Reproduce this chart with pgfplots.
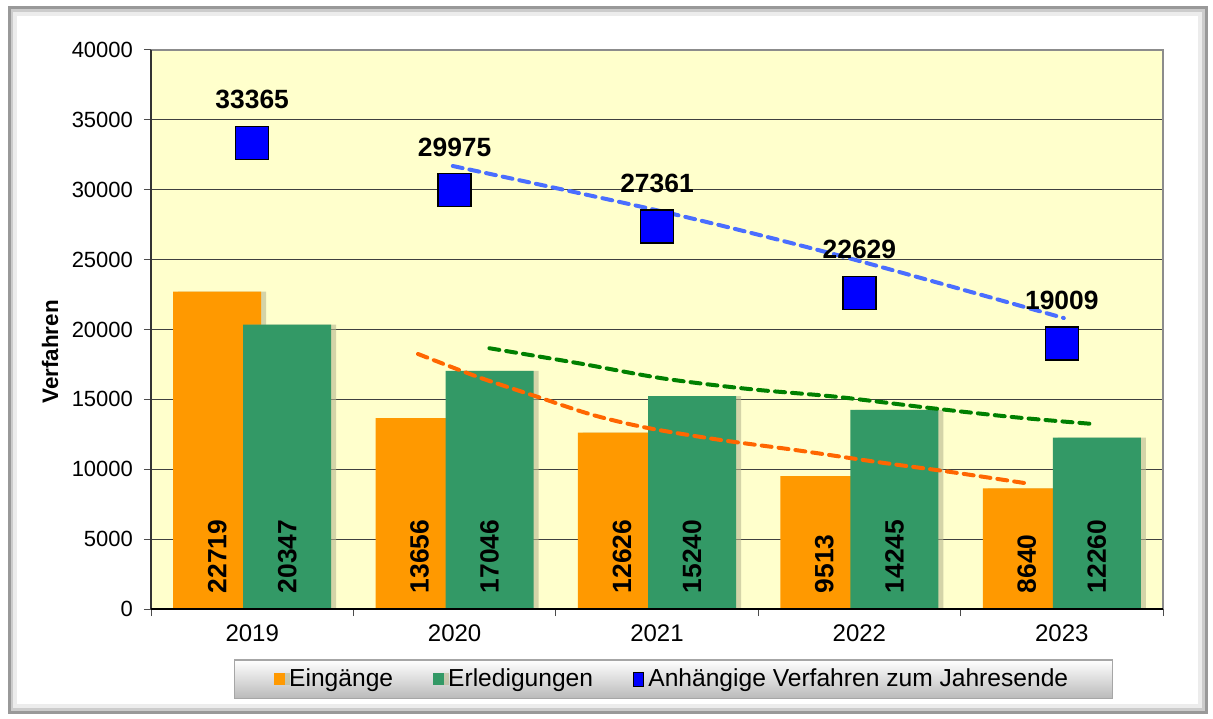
\documentclass[border=0pt]{standalone}
\usepackage{pgfplots}
\pgfplotsset{compat=1.18}
\usepackage{pgfplotstable}
\usepackage{fontspec}
\setmainfont{Liberation Sans}
\definecolor{orgbar}{HTML}{FF9900}
\definecolor{grnbar}{HTML}{339966}
\definecolor{mkblue}{HTML}{0000FF}
\definecolor{trblue}{HTML}{4A6EFF}
\definecolor{trorange}{HTML}{FF6600}
\definecolor{trgreen}{HTML}{008000}
\definecolor{bgyellow}{HTML}{FFFFCC}
\definecolor{shad}{HTML}{B8B890}

\pgfplotstableread{
x ein erl anh
0 22719 20347 33365
1 13656 17046 29975
2 12626 15240 27361
3 9513 14245 22629
4 8640 12260 19009
}\data

\pgfplotstableread{
x y
0.819 18250
1.116 16600
1.412 15170
1.684 13880
1.956 12950
2.316 12090
2.682 11380
3.087 10520
3.453 9800
3.813 9020
}\trendein

\pgfplotstableread{
x y
1.172 18660
1.615 17580
2.025 16510
2.455 15740
2.884 15190
3.339 14400
3.769 13720
4.154 13240
}\trenderl

\pgfplotstableread{
x y
0.991 31700
2.03 28430
2.89 25330
4.01 20820
}\trendanh

\begin{document}
\begin{tikzpicture}
\useasboundingbox (0,0) rectangle (606.5pt,359pt);
\fill[white] (0,0) rectangle (606.5pt,359pt);
\draw[gray!80, line width=1.5pt] (4.5pt,3pt) rectangle (603pt,355pt);
\draw[gray!40, line width=1.5pt] (6pt,4.5pt) rectangle (601.5pt,353.5pt);
\draw[gray!15, line width=2pt] (7.5pt,6pt) rectangle (600pt,352pt);
\begin{axis}[
  at={(75.5pt,54.5pt)}, anchor=south west,
  scale only axis, width=506pt, height=279.5pt,
  xmin=-0.5, xmax=4.5, ymin=0, ymax=40000,
  ytick={0,5000,...,40000},
  xtick={-0.5,0.5,...,4.5},
  xticklabels={2019,2020,2021,2022,2023},
  x tick label as interval,
  scaled y ticks=false,
  /pgf/number format/1000 sep={},
  /pgf/number format/assume math mode=true,
  tick pos=left, tick align=outside,
  major tick length=3.5pt,
  tick style={black!70, line width=0.5pt},
  yticklabel style={font=\fontsize{11}{13}\selectfont, xshift=-2pt},
  xticklabel style={font=\fontsize{12}{14}\selectfont, yshift=-1pt},
  ymajorgrids,
  grid style={black!75, line width=0.5pt},
  axis background/.style={fill=bgyellow},
  axis line style={draw=none},
  ylabel={Verfahren},
  every axis y label/.style={at={(axis description cs:-0.0998,0.46)}, rotate=90, anchor=center, font=\fontsize{11.2}{13}\selectfont\bfseries},
  legend columns=-1,
  legend style={at={(0.516,-0.126)}, anchor=center,
    top color=white, bottom color=gray!55, draw=gray!70, line width=0.6pt,
    inner xsep=20pt, inner ysep=2.5pt,
    font=\fontsize{12.3}{14}\selectfont,
    /tikz/every even column/.append style={column sep=18pt}},
  legend cell align=left,
  after end axis/.code={
    \draw[gray!90, line width=1pt] (rel axis cs:0,1) -- (rel axis cs:1,1) -- (rel axis cs:1,0);
    \draw[black!80, line width=0.6pt] (rel axis cs:0,1) -- (rel axis cs:0,0);
    \draw[black, line width=0.9pt] (rel axis cs:0,0) -- (rel axis cs:1,0);
  },
]
\addplot[ybar, bar width=0.435, bar shift=-0.173, fill=orgbar, draw=none,
  preaction={fill=shad, opacity=0.6, transform canvas={xshift=2.5pt}},
  legend image code/.code={\fill[orgbar] (0pt,-3pt) rectangle (5.5pt,3pt);}]
  table[x=x, y=ein] {\data};
\addlegendentry{Eingänge}
\addplot[ybar, bar width=0.435, bar shift=0.173, fill=grnbar, draw=none,
  preaction={fill=shad, opacity=0.6, transform canvas={xshift=2.5pt}},
  legend image code/.code={\fill[grnbar] (0pt,-3pt) rectangle (5.5pt,3pt);}]
  table[x=x, y=erl] {\data};
\addlegendentry{Erledigungen}
\addplot[only marks, mark=square*, mark size=8.25pt,
  mark options={fill=mkblue, draw=black, line width=0.7pt},
  nodes near coords={\pgfmathprintnumber[fixed,precision=0,1000 sep={}]{\pgfplotspointmeta}},
  point meta=\thisrow{anh},
  every node near coord/.append style={anchor=center, yshift=21.5pt, font=\fontsize{13.2}{15}\selectfont\bfseries, text=black},
  legend image code/.code={\filldraw[fill=mkblue, draw=black, line width=0.6pt] (0pt,-3.5pt) rectangle (5pt,3.5pt);}]
  table[x=x, y=anh] {\data};
\addlegendentry{Anhängige Verfahren zum Jahresende}
% bar labels
\addplot[draw=none, forget plot,
  nodes near coords={\pgfmathprintnumber[fixed,precision=0,1000 sep={}]{\pgfplotspointmeta}},
  point meta=\thisrow{ein},
  every node near coord/.append style={rotate=90, anchor=west, inner sep=0pt, font=\fontsize{13.2}{15}\selectfont\bfseries, text=black}]
  table[x expr=\thisrow{x}-0.173, y expr=1100] {\data};
\addplot[draw=none, forget plot,
  nodes near coords={\pgfmathprintnumber[fixed,precision=0,1000 sep={}]{\pgfplotspointmeta}},
  point meta=\thisrow{erl},
  every node near coord/.append style={rotate=90, anchor=west, inner sep=0pt, font=\fontsize{13.2}{15}\selectfont\bfseries, text=black}]
  table[x expr=\thisrow{x}+0.173, y expr=1100] {\data};
% trend lines
\addplot[forget plot, smooth, trorange, line width=2pt, dash pattern=on 5pt off 3.5pt, line cap=round] table[x=x,y=y] {\trendein};
\addplot[forget plot, smooth, trgreen, line width=2pt, dash pattern=on 5pt off 3.5pt, line cap=round] table[x=x,y=y] {\trenderl};
\addplot[forget plot, smooth, trblue, line width=2pt, dash pattern=on 5pt off 3.5pt, line cap=round] table[x=x,y=y] {\trendanh};
\end{axis}
\end{tikzpicture}
\end{document}
